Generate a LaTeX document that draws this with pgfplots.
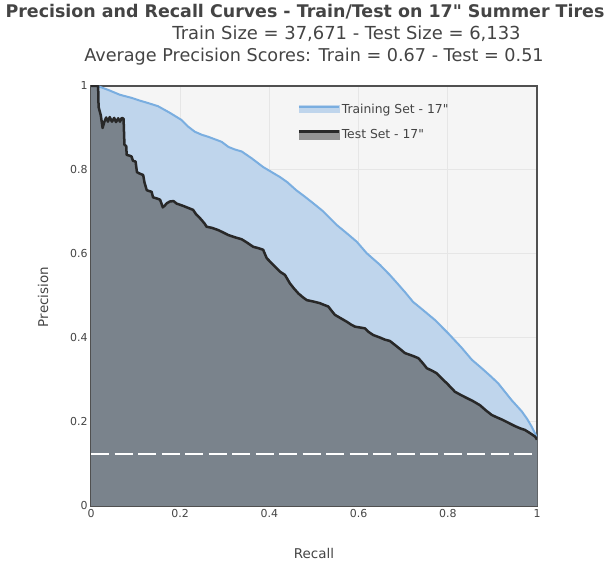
\documentclass[border=0pt]{standalone}
\usepackage{pgfplots}
\usepackage{pgfplotstable}
\pgfplotsset{compat=1.18}
\usepackage{fontspec}
\setmainfont{DejaVu Sans}[Ligatures=TeXOff]
\definecolor{plotbg}{RGB}{245,245,245}
\definecolor{gridc}{RGB}{230,230,230}
\definecolor{trainfill}{RGB}{191,213,236}
\definecolor{trainline}{RGB}{122,174,224}
\definecolor{testfill}{RGB}{122,131,140}
\definecolor{testline}{RGB}{40,40,40}
\definecolor{txt}{RGB}{68,68,68}
\definecolor{frame}{RGB}{80,80,80}
\pgfplotstableread{
x y
0 1
0.02 0.998
0.04 0.99
0.065 0.979
0.09 0.972
0.11 0.965
0.126 0.960
0.15 0.952
0.177 0.936
0.203 0.919
0.218 0.903
0.233 0.891
0.248 0.884
0.263 0.879
0.278 0.873
0.293 0.867
0.308 0.855
0.322 0.849
0.338 0.844
0.36 0.828
0.386 0.807
0.405 0.795
0.424 0.783
0.44 0.771
0.46 0.752
0.48 0.736
0.498 0.721
0.52 0.702
0.551 0.669
0.575 0.648
0.596 0.629
0.618 0.602
0.633 0.588
0.648 0.574
0.670 0.55
0.686 0.531
0.705 0.508
0.722 0.486
0.745 0.466
0.771 0.443
0.801 0.411
0.83 0.378
0.854 0.348
0.876 0.328
0.895 0.31
0.913 0.292
0.928 0.272
0.943 0.252
0.955 0.238
0.966 0.225
0.978 0.207
0.988 0.189
0.999 0.165
1 0.162
}\train
\pgfplotstableread{
x y
0 1
0.016 1
0.017 0.95
0.022 0.93
0.026 0.9
0.03 0.915
0.034 0.925
0.038 0.915
0.042 0.926
0.047 0.915
0.052 0.924
0.056 0.914
0.061 0.923
0.065 0.915
0.069 0.924
0.073 0.922
0.075 0.86
0.079 0.857
0.080 0.836
0.087 0.834
0.091 0.832
0.094 0.822
0.1 0.82
0.103 0.795
0.108 0.792
0.117 0.788
0.12 0.77
0.125 0.752
0.13 0.75
0.136 0.748
0.139 0.735
0.145 0.733
0.151 0.731
0.155 0.729
0.158 0.72
0.161 0.711
0.166 0.716
0.170 0.721
0.177 0.725
0.185 0.726
0.192 0.72
0.2 0.717
0.208 0.714
0.215 0.711
0.222 0.708
0.229 0.705
0.236 0.694
0.242 0.688
0.248 0.681
0.255 0.672
0.259 0.665
0.272 0.662
0.285 0.657
0.295 0.652
0.308 0.645
0.322 0.64
0.338 0.635
0.35 0.627
0.364 0.617
0.375 0.614
0.386 0.610
0.394 0.590
0.405 0.578
0.416 0.566
0.425 0.557
0.435 0.55
0.446 0.530
0.455 0.518
0.465 0.506
0.475 0.497
0.484 0.490
0.498 0.487
0.513 0.483
0.522 0.479
0.532 0.475
0.540 0.464
0.547 0.455
0.56 0.447
0.573 0.439
0.583 0.432
0.592 0.427
0.603 0.425
0.614 0.423
0.623 0.414
0.633 0.407
0.648 0.401
0.659 0.396
0.670 0.393
0.688 0.378
0.704 0.364
0.72 0.358
0.734 0.352
0.744 0.34
0.753 0.328
0.765 0.322
0.775 0.316
0.787 0.303
0.798 0.292
0.808 0.281
0.816 0.272
0.828 0.265
0.839 0.259
0.856 0.25
0.872 0.240
0.885 0.228
0.898 0.217
0.91 0.211
0.921 0.206
0.936 0.198
0.951 0.190
0.962 0.185
0.973 0.181
0.985 0.173
0.996 0.165
1 0.158
}\test
\begin{document}
\begin{tikzpicture}[x=1bp,y=1bp]
\useasboundingbox (0,0) rectangle (610,567);
\node[font=\fontsize{17.5}{20}\selectfont\bfseries, text=txt] at (305,555) {Precision and Recall Curves - Train/Test on 17" Summer Tires};
\node[font=\fontsize{18}{21}\selectfont, text=txt] at (346.5,533) {Train Size = 37,671 - Test Size = 6,133};
\node[font=\fontsize{17.7}{21}\selectfont, text=txt] at (314,510) {Average Precision Scores: Train = 0.67 - Test = 0.51};
\begin{axis}[
  at={(91bp,61bp)}, anchor=south west,
  scale only axis, width=446bp, height=420bp,
  xmin=0, xmax=1, ymin=0, ymax=1,
  xtick={0,0.2,0.4,0.6,0.8,1}, ytick={0,0.2,0.4,0.6,0.8,1},
  xticklabels={0,0.2,0.4,0.6,0.8,1}, yticklabels={0,0.2,0.4,0.6,0.8,1},
  tick style={draw=none},
  ticklabel style={font=\fontsize{11}{13}\selectfont, text=txt},
  xtick pos=bottom, ytick pos=left,
  grid=major, major grid style={gridc, line width=1bp},
  axis background/.style={fill=plotbg},
  axis line style={frame, line width=1.3bp},
  axis on top=false,
  legend cell align=left,
  legend style={draw=none, fill=none, at={(rel axis cs:0.462,0.962)}, anchor=north west,
    inner sep=0pt, row sep=12bp, font=\fontsize{12.4}{14}\selectfont, text=txt,
    nodes={inner sep=1.5bp, text=txt}},
]
\addlegendimage{legend image code/.code={
  \fill[trainfill] (0bp,-3.5bp) rectangle (40bp,3.5bp);
  \draw[trainline, line width=2bp] (0bp,2.5bp) -- (40bp,2.5bp);}}
\addlegendentry{Training Set - 17"}
\addlegendimage{legend image code/.code={
  \fill[gray!85] (0bp,-4.5bp) rectangle (40bp,4.5bp);
  \draw[testline, line width=3bp] (0bp,3bp) -- (40bp,3bp);}}
\addlegendentry{Test Set - 17"}

\addplot[fill=trainfill, draw=none, forget plot] table[x=x,y=y] {\train} \closedcycle;
\addplot[trainline, line width=2bp, forget plot] table[x=x,y=y] {\train};
\addplot[fill=testfill, draw=none, forget plot] table[x=x,y=y] {\test} \closedcycle;
\addplot[testline, line width=2.5bp, line join=round, forget plot] table[x=x,y=y] {\test};
\addplot[white, line width=1.3bp, dash pattern=on 18bp off 5.5bp, forget plot] coordinates {(0,0.124) (1,0.124)};
\end{axis}
\node[font=\fontsize{13.5}{16}\selectfont, text=txt] at (314,14) {Recall};
\node[font=\fontsize{13.5}{16}\selectfont, text=txt, rotate=90] at (43,270) {Precision};
\end{tikzpicture}
\end{document}
